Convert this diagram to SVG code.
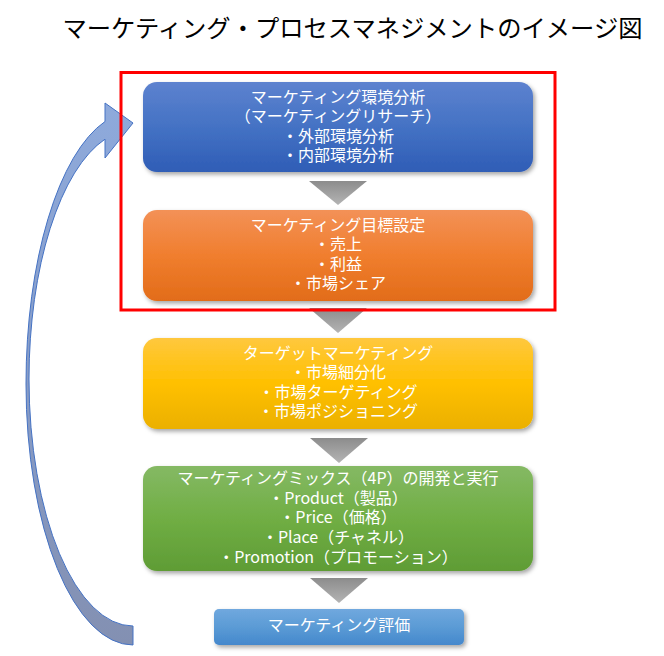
<svg xmlns="http://www.w3.org/2000/svg" width="664" height="656" viewBox="0 0 664 656">
<style>
.t{font-family:"Noto Sans CJK JP","Noto Sans",sans-serif;font-size:16px;fill:#fff;text-anchor:middle}
.title{font-family:"Noto Sans CJK JP","Noto Sans",sans-serif;font-size:24.3px;fill:#000;text-anchor:middle}
.box{filter:url(#sh)}
.tri{fill:url(#gGray)}
</style>
<defs>
<filter id="sh" x="-10%" y="-20%" width="120%" height="150%">
<feDropShadow dx="2" dy="2.5" stdDeviation="2" flood-color="#000" flood-opacity="0.35"/>
</filter>
<linearGradient id="gBlue" x1="0" y1="0" x2="0" y2="1"><stop offset="0" stop-color="#5d82cf"/><stop offset="0.5" stop-color="#4472c4"/><stop offset="1" stop-color="#2f5db6"/></linearGradient>
<linearGradient id="gOrange" x1="0" y1="0" x2="0" y2="1"><stop offset="0" stop-color="#f39157"/><stop offset="0.5" stop-color="#f07e2e"/><stop offset="1" stop-color="#e26c19"/></linearGradient>
<linearGradient id="gYellow" x1="0" y1="0" x2="0" y2="1"><stop offset="0" stop-color="#ffc83e"/><stop offset="0.5" stop-color="#ffc000"/><stop offset="1" stop-color="#ebb000"/></linearGradient>
<linearGradient id="gGreen" x1="0" y1="0" x2="0" y2="1"><stop offset="0" stop-color="#85b964"/><stop offset="0.5" stop-color="#70ae44"/><stop offset="1" stop-color="#5f9c35"/></linearGradient>
<linearGradient id="gLBlue" x1="0" y1="0" x2="0" y2="1"><stop offset="0" stop-color="#70a8de"/><stop offset="0.5" stop-color="#5b9bd5"/><stop offset="1" stop-color="#4488cc"/></linearGradient>
<linearGradient id="gGray" x1="0" y1="0" x2="0" y2="1"><stop offset="0" stop-color="#8c8c8c"/><stop offset="1" stop-color="#b4b4b4"/></linearGradient>
<linearGradient id="gArrow" x1="0" y1="0" x2="0" y2="1"><stop offset="0" stop-color="#8eaadc"/><stop offset="1" stop-color="#8390b2"/></linearGradient>
</defs>
<rect width="664" height="656" fill="#fff"/>
<text class="title" x="352.5" y="37">マーケティング・プロセスマネジメントのイメージ図</text>

<g id="connectors">
<path id="loop-arrow" d="M133,645 A107,261 0 0 1 26,384 A107,272 0 0 1 105,121.5 L105,103 L133,123 L105,158 L105,139.2 A104,249 0 0 0 29,379 A104,247 0 0 0 133,626 Z" fill="url(#gArrow)" stroke="#4472c4" stroke-width="1"/>
<polygon class="tri" points="309,181 367,181 338,205"/>
<polygon class="tri" points="309,308 367,308 338,333"/>
<polygon class="tri" points="310,438 368,438 339,463"/>
<polygon class="tri" points="310,578 368,578 339,603"/>
</g>

<g id="node-analysis">
<rect class="box" x="143" y="82" width="390" height="90" rx="14" fill="url(#gBlue)"/>
<text class="t" x="338" y="103">マーケティング環境分析</text>
<text class="t" x="338" y="122.3">（マーケティングリサーチ）</text>
<text class="t" x="338" y="141.6">・外部環境分析</text>
<text class="t" x="338" y="161">・内部環境分析</text>
</g>

<g id="node-goal">
<rect class="box" x="143" y="210" width="390" height="91" rx="14" fill="url(#gOrange)"/>
<text class="t" x="338" y="231">マーケティング目標設定</text>
<text class="t" x="338" y="250.3">・売上</text>
<text class="t" x="338" y="269.6">・利益</text>
<text class="t" x="338" y="289">・市場シェア</text>
</g>

<g id="node-target">
<rect class="box" x="143" y="338" width="390" height="91" rx="14" fill="url(#gYellow)"/>
<text class="t" x="338" y="359">ターゲットマーケティング</text>
<text class="t" x="338" y="378.3">・市場細分化</text>
<text class="t" x="338" y="397.6">・市場ターゲティング</text>
<text class="t" x="338" y="417">・市場ポジショニング</text>
</g>

<g id="node-mix">
<rect class="box" x="143" y="466" width="390" height="105" rx="14" fill="url(#gGreen)"/>
<text class="t" x="338" y="484">マーケティングミックス（4P）の開発と実行</text>
<text class="t" x="338" y="503.6">・Product（製品）</text>
<text class="t" x="338" y="523.3">・Price（価格）</text>
<text class="t" x="338" y="543">・Place（チャネル）</text>
<text class="t" x="338" y="562.6">・Promotion（プロモーション）</text>
</g>

<g id="node-eval">
<rect class="box" x="214" y="609" width="250" height="36" rx="5" fill="url(#gLBlue)"/>
<text class="t" x="339" y="631">マーケティング評価</text>
</g>

<rect id="highlight" x="121" y="72.5" width="434" height="237.5" fill="none" stroke="#ff0000" stroke-width="3"/>
</svg>
